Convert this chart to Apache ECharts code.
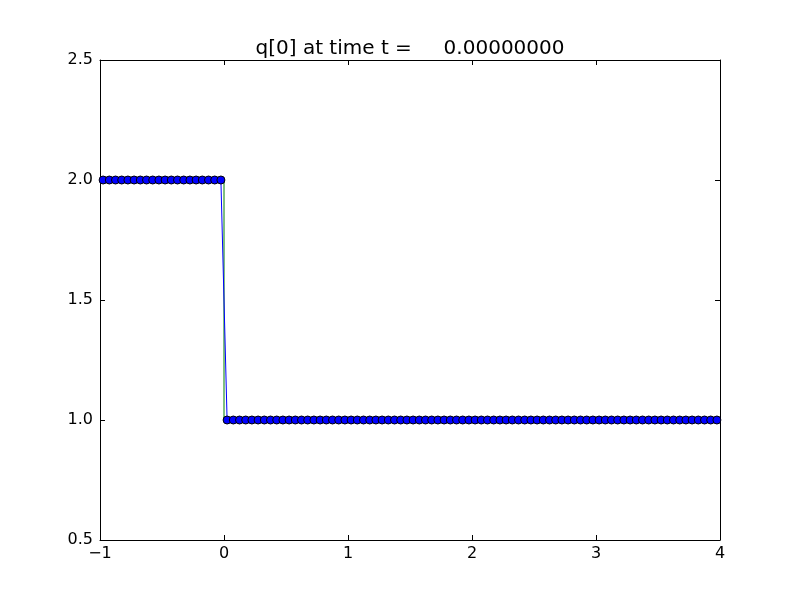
<!DOCTYPE html>
<html>
<head>
<meta charset="utf-8">
<script src="https://cdn.jsdelivr.net/npm/echarts@6/dist/echarts.min.js"></script>
<style>html,body{margin:0;padding:0;background:#fff;}#chart{width:800px;height:600px;}</style>
</head>
<body>
<div id="chart"></div>
<script>
// Cell-centre positions of the numerical solution
const xCenters = [
  -0.975,-0.925,-0.875,-0.825,-0.775,-0.725,-0.675,-0.625,-0.575,-0.525,
  -0.475,-0.425,-0.375,-0.325,-0.275,-0.225,-0.175,-0.125,-0.075,-0.025,
  0.025,0.075,0.125,0.175,0.225,0.275,0.325,0.375,0.425,0.475,
  0.525,0.575,0.625,0.675,0.725,0.775,0.825,0.875,0.925,0.975,
  1.025,1.075,1.125,1.175,1.225,1.275,1.325,1.375,1.425,1.475,
  1.525,1.575,1.625,1.675,1.725,1.775,1.825,1.875,1.925,1.975,
  2.025,2.075,2.125,2.175,2.225,2.275,2.325,2.375,2.425,2.475,
  2.525,2.575,2.625,2.675,2.725,2.775,2.825,2.875,2.925,2.975,
  3.025,3.075,3.125,3.175,3.225,3.275,3.325,3.375,3.425,3.475,
  3.525,3.575,3.625,3.675,3.725,3.775,3.825,3.875,3.925,3.975
];
// q[0] values at those centres
const qValues = [
  2,2,2,2,2,2,2,2,2,2, 2,2,2,2,2,2,2,2,2,2,
  1,1,1,1,1,1,1,1,1,1, 1,1,1,1,1,1,1,1,1,1,
  1,1,1,1,1,1,1,1,1,1, 1,1,1,1,1,1,1,1,1,1,
  1,1,1,1,1,1,1,1,1,1, 1,1,1,1,1,1,1,1,1,1,
  1,1,1,1,1,1,1,1,1,1, 1,1,1,1,1,1,1,1,1,1
];
// Exact (reference) solution: step at x = 0
const exactX = [-1, 0, 0, 4];
const exactQ = [2, 2, 1, 1];

const xTicks = [-1, 0, 1, 2, 3, 4];
const yTicks = [0.5, 1.0, 1.5, 2.0, 2.5];
const titleText = 'q[0] at time t =     0.00000000';

const chart = echarts.init(document.getElementById('chart'), null, {renderer: 'canvas'});
const font = 'DejaVu Sans';
const gridCfg = {left: 100, right: 80, top: 60, bottom: 60};

function fmtX(v) { return (v < 0 ? '\u2212' : '') + Math.abs(v).toString(); }
function fmtY(v) { return v.toFixed(1); }

const baseAxisLine = {show: true, onZero: false, lineStyle: {color: '#000', width: 1}};
const tickCfg = {show: true, inside: true, length: 5, lineStyle: {color: '#000', width: 1}};

chart.setOption({
  animation: false,
  backgroundColor: '#fff',
  title: {
    text: titleText, left: 405, top: 34, textAlign: 'center',
    textStyle: {fontFamily: font, fontSize: 20, fontWeight: 'normal', color: '#000'}
  },
  grid: Object.assign({containLabel: false}, gridCfg),
  xAxis: [
    {type: 'value', min: xTicks[0], max: xTicks[xTicks.length-1], interval: 1, position: 'bottom',
     axisLine: baseAxisLine, axisTick: tickCfg, splitLine: {show: false},
     axisLabel: {color: '#000', fontFamily: font, fontSize: 16, margin: 6, formatter: fmtX}},
    {type: 'value', min: xTicks[0], max: xTicks[xTicks.length-1], interval: 1, position: 'top',
     axisLine: baseAxisLine, axisTick: tickCfg, splitLine: {show: false}, axisLabel: {show: false}}
  ],
  yAxis: [
    {type: 'value', min: yTicks[0], max: yTicks[yTicks.length-1], interval: 0.5, position: 'left',
     axisLine: baseAxisLine, axisTick: tickCfg, splitLine: {show: false},
     axisLabel: {color: '#000', fontFamily: font, fontSize: 16, margin: 7, formatter: fmtY}},
    {type: 'value', min: yTicks[0], max: yTicks[yTicks.length-1], interval: 0.5, position: 'right',
     axisLine: baseAxisLine, axisTick: tickCfg, splitLine: {show: false}, axisLabel: {show: false}}
  ],
  series: [
    {
      type: 'line', name: 'exact', xAxisIndex: 0, yAxisIndex: 0,
      data: exactX.map((x, i) => [x, exactQ[i]]),
      showSymbol: false, symbol: 'none',
      lineStyle: {color: '#008000', width: 1}, z: 2
    },
    {
      type: 'line', name: 'q', xAxisIndex: 0, yAxisIndex: 0,
      data: xCenters.map((x, i) => [x, qValues[i]]),
      symbol: 'circle', symbolSize: 8, showAllSymbol: true,
      itemStyle: {color: '#0000ff', borderColor: '#000', borderWidth: 1},
      lineStyle: {color: '#0000ff', width: 1}, z: 3
    }
  ]
});
</script>
</body>
</html>
